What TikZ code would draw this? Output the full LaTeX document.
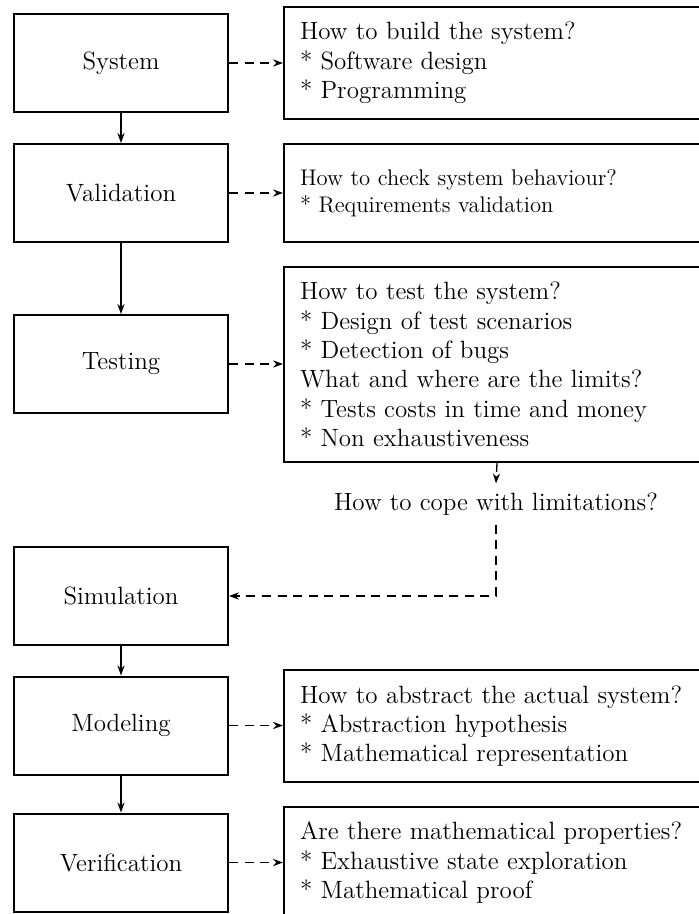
\documentclass[tikz,border=0pt]{standalone}
\usetikzlibrary{arrows.meta}
\begin{document}
\begin{tikzpicture}[x=0.5pt,y=-0.5pt,
  stage/.style={draw, line width=1pt, minimum width=107pt, minimum height=49pt, inner sep=0pt, font=\fontsize{12.5}{14.5}\selectfont},
  info/.style={draw, line width=1pt, anchor=west, text width=197pt, inner xsep=8pt, inner ysep=0pt, align=left, font=\fontsize{12.5}{14.65}\selectfont},
  smallinfo/.style={info, font=\fontsize{11.3}{13.35}\selectfont},
  flow/.style={-{Stealth[length=5pt,width=3.6pt]}, line width=0.65pt},
  hint/.style={flow, dash pattern=on 4.5pt off 3.3pt}]
\useasboundingbox (0,0) rectangle (699,914);
\clip (0,0) rectangle (699,914);
% stages
\node[stage] (sys) at (121,63) {System};
\node[stage] (val) at (121,193) {Validation};
\node[stage] (tst) at (121,364) {Testing};
\node[stage] (sim) at (121,596) {Simulation};
\node[stage] (mod) at (121,725.5) {Modeling};
\node[stage] (ver) at (121,862.5) {Verification};
% questions
\node[info, minimum height=56pt] (sysR) at (283,63) {How to build the system?\\{*} Software design\\{*} Programming};
\node[smallinfo, minimum height=49pt] (valR) at (283,193) {How to check system behaviour?\\{*} Requirements validation};
\node[info, minimum height=97.5pt] (tstR) at (283,364.5) {How to test the system?\\{*} Design of test scenarios\\{*} Detection of bugs\\What and where are the limits?\\{*} Tests costs in time and money\\{*} Non exhaustiveness};
\node[info, minimum height=56pt] (modR) at (283,726) {How to abstract the actual system?\\{*} Abstraction hypothesis\\{*} Mathematical representation};
\node[info, minimum height=56pt] (verR) at (283,862.5) {Are there mathematical properties?\\{*} Exhaustive state exploration\\{*} Mathematical proof};
\node[font=\fontsize{12.5}{14.5}\selectfont, inner sep=4.5pt] (lim) at (496,504) {How to cope with limitations?};
% connectors
\draw[flow] (sys.south) -- (val.north);
\draw[flow] (val.south) -- (tst.north);
\draw[flow] (sim.south) -- (mod.north);
\draw[flow] (mod.south) -- (ver.north);
\draw[hint] (sys.east) -- (sysR.west);
\draw[hint] (val.east) -- (valR.west);
\draw[hint] (tst.east) -- (tst.east -| tstR.west);
\draw[hint] (mod.east) -- (mod.east -| modR.west);
\draw[hint] (ver.east) -- (verR.west);
\draw[hint] (tstR.south) -- (lim.north);
\draw[hint] (lim.south) |- (sim.east);
\end{tikzpicture}
\end{document}
